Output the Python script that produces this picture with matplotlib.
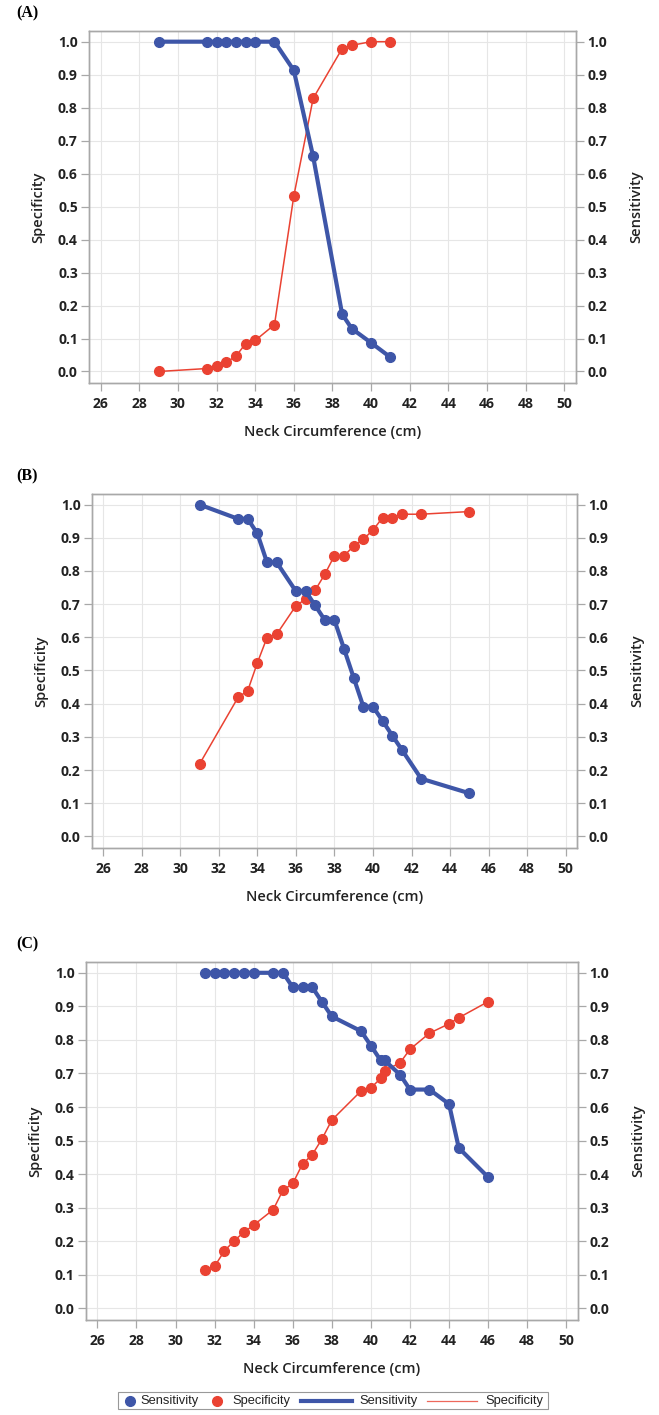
import matplotlib
matplotlib.use('Agg')
import matplotlib.pyplot as plt
from matplotlib.lines import Line2D
from matplotlib.patches import Rectangle

# Panel A data
a_x = [29, 31.5, 32, 32.5, 33, 33.5, 34, 35, 36, 37, 38.5, 39, 40, 41]
a_sens = [1.0, 1.0, 1.0, 1.0, 1.0, 1.0, 1.0, 1.0, 0.913, 0.652, 0.174, 0.130, 0.087, 0.043]
a_spec = [0.0, 0.009, 0.016, 0.028, 0.046, 0.084, 0.094, 0.142, 0.532, 0.828, 0.979, 0.989, 1.0, 1.0]

# Panel B data
b_x = [31, 33, 33.5, 34, 34.5, 35, 36, 36.5, 37, 37.5, 38, 38.5, 39, 39.5, 40, 40.5, 41, 41.5, 42.5, 45]
b_sens = [1.0, 0.957, 0.957, 0.913, 0.826, 0.826, 0.739, 0.739, 0.696, 0.652, 0.652, 0.565,
          0.478, 0.391, 0.391, 0.348, 0.304, 0.261, 0.174, 0.130]
b_spec = [0.218, 0.419, 0.439, 0.523, 0.599, 0.609, 0.695, 0.715, 0.742, 0.790, 0.846, 0.846,
          0.875, 0.896, 0.923, 0.961, 0.961, 0.971, 0.971, 0.979]

# Panel C data
c_x = [31.5, 32, 32.5, 33, 33.5, 34, 35, 35.5, 36, 36.5, 37, 37.5, 38, 39.5, 40, 40.5, 40.7,
       41.5, 42, 43, 44, 44.5, 46]
c_sens = [1.0, 1.0, 1.0, 1.0, 1.0, 1.0, 1.0, 1.0, 0.957, 0.957, 0.957, 0.913, 0.870, 0.826,
          0.783, 0.739, 0.739, 0.696, 0.652, 0.652, 0.609, 0.478, 0.391]
c_spec = [0.114, 0.125, 0.171, 0.201, 0.227, 0.248, 0.294, 0.352, 0.372, 0.430, 0.458, 0.505,
          0.561, 0.648, 0.657, 0.685, 0.708, 0.732, 0.772, 0.820, 0.848, 0.866, 0.914]

x_ticks = list(range(26, 51, 2))
y_ticks = [i / 10 for i in range(11)]
legend_labels = ['Sensitivity', 'Specificity', 'Sensitivity', 'Specificity']

BLUE = '#3E56A8'
RED = '#EA4232'
GRID = '#E6E6E6'
SPINE = '#A8A8A8'
TXT = '#222222'

plt.rcParams['font.family'] = ['Open Sans', 'DejaVu Sans']

W, H = 659, 1415
fig = plt.figure(figsize=(W / 100, H / 100), dpi=100)

# axes boxes (left, bottom, width, height) in figure fraction
boxes = [
    (0.135, 0.7293, 0.739, 0.2487),
    (0.139, 0.4007, 0.737, 0.2502),
    (0.130, 0.0671, 0.747, 0.2530),
]
panels = [('(A)', a_x, a_sens, a_spec),
          ('(B)', b_x, b_sens, b_spec),
          ('(C)', c_x, c_sens, c_spec)]


def draw_panel(box, tag, x, sens, spec):
    ax = fig.add_axes(box)
    ax2 = ax.twinx()
    for a in (ax, ax2):
        a.set_xlim(25.4, 50.6)
        a.set_ylim(-0.035, 1.032)
        a.set_yticks(y_ticks)
        a.set_yticklabels([f'{t:.1f}' for t in y_ticks], fontsize=10, fontweight='bold', color=TXT)
        for s in a.spines.values():
            s.set_color(SPINE)
            s.set_linewidth(1.0)
        a.tick_params(axis='y', length=6, width=0.9, color=SPINE, pad=2)
    ax.set_xticks(x_ticks)
    ax.set_xticklabels([str(t) for t in x_ticks], fontsize=10, fontweight='bold', color=TXT)
    ax.tick_params(axis='x', length=6, width=0.9, color=SPINE, pad=4)
    ax.grid(True, color=GRID, linewidth=0.8)
    ax.set_axisbelow(True)

    ax.plot(x, spec, color=RED, linewidth=1.1, marker='o', markersize=7, zorder=3)
    ax2.plot(x, sens, color=BLUE, linewidth=3.0, marker='o', markersize=7, zorder=4)

    ax.set_ylabel('Specificity', fontsize=10.5, fontweight='semibold', color=TXT, labelpad=9)
    ax2.set_ylabel('Sensitivity', fontsize=10.5, fontweight='semibold', color=TXT, labelpad=16)
    ax.set_xlabel('Neck Circumference (cm)', fontsize=10.5, fontweight='semibold', color=TXT, labelpad=10)

    fig.text(0.024, box[1] + box[3] + 0.007, tag, fontsize=11.5, fontweight='bold',
             family='Liberation Serif', color='black', va='bottom')
    return ax


for box, (tag, x, sens, spec) in zip(boxes, panels):
    draw_panel(box, tag, x, sens, spec)


# legend drawn by hand so the marker entries stay compact, like the SAS legend
def fx(px):
    return px / W


def fy(py):
    return 1 - py / H


ly = 1400.7
fig.add_artist(Rectangle((fx(118.3), fy(1409)), fx(548.3) - fx(118.3), fy(1392.3) - fy(1409),
                         transform=fig.transFigure, fill=False, edgecolor='#999999', linewidth=0.8))
fig.add_artist(Line2D([fx(130)], [fy(ly)], transform=fig.transFigure, linestyle='none',
                      marker='o', color=BLUE, markersize=7))
fig.add_artist(Line2D([fx(217.3)], [fy(ly)], transform=fig.transFigure, linestyle='none',
                      marker='o', color=RED, markersize=7))
fig.add_artist(Line2D([fx(301), fx(352.3)], [fy(ly), fy(ly)], transform=fig.transFigure,
                      color=BLUE, linewidth=3.0))
fig.add_artist(Line2D([fx(426.7), fx(476.7)], [fy(ly), fy(ly)], transform=fig.transFigure,
                      color=RED, linewidth=0.9, alpha=0.8))
for px, lab in zip([140, 232.7, 359.3, 485], legend_labels):
    fig.text(fx(px), fy(ly), lab, family='Liberation Sans', fontsize=9.3, color=TXT,
             ha='left', va='center')

fig.savefig('out.png', dpi=100)
